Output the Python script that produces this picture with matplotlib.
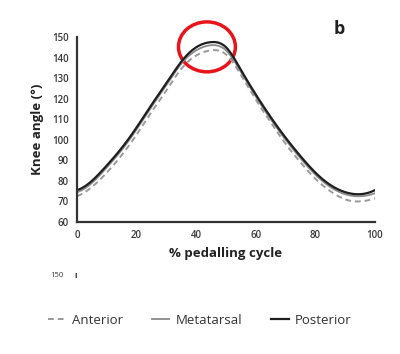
import numpy as np
import matplotlib
matplotlib.use("Agg")
import matplotlib.pyplot as plt
from matplotlib.patches import Ellipse
from scipy.interpolate import CubicSpline

# % pedalling cycle and knee angle (deg) per pedal position
cycle = [0, 5, 10, 15, 20, 25, 30, 35, 40, 45, 50, 55, 60, 65, 70, 75, 80, 85, 90, 95, 100]
posterior = [75.5, 80, 87.5, 96, 106, 117, 127.5, 138, 145, 147.5, 145, 134, 122, 111,
             101, 92, 84, 78, 74.5, 73.5, 75.5]
metatarsal = [74.5, 79, 86.5, 95, 105, 116, 126.5, 137, 143.5, 146, 143.5, 133, 121, 110,
              100, 91, 83, 77, 73.5, 72.5, 74]
anterior = [72.5, 77, 84, 92.5, 102.5, 113.5, 124, 134.5, 141, 143.5, 141.5, 131.5, 119.5,
            108.5, 98, 89, 81, 75, 71, 70, 71.5]
yticks = [60, 70, 80, 90, 100, 110, 120, 130, 140, 150]
xticks = [0, 20, 40, 60, 80, 100]

plt.rcParams['font.family'] = ['Open Sans', 'DejaVu Sans']

fig = plt.figure(figsize=(4.0, 3.54), dpi=100)
ax = fig.add_axes([0.1925, 0.373, 0.745, 0.5225])

# smooth curve through the read-off points
xs = np.linspace(0, 100, 300)
def smooth(vals):
    return CubicSpline(cycle, vals)(xs)

ax.plot(xs, smooth(anterior), color='#9a9a9a', lw=1.4, ls=(0, (3, 2)), label='Anterior')
ax.plot(xs, smooth(metatarsal), color='#8a8a8a', lw=1.3, label='Metatarsal')
ax.plot(xs, smooth(posterior), color='#1e1e1e', lw=1.6, label='Posterior')

ax.set_xlim(0, 100)
ax.set_ylim(60, 150)
ax.set_xticks(xticks)
ax.set_yticks(yticks)
ax.tick_params(length=0, labelsize=7, colors='#3a3a3a', pad=6)
for lbl in ax.get_xticklabels() + ax.get_yticklabels():
    lbl.set_fontweight('semibold')
for s in ['top', 'right']:
    ax.spines[s].set_visible(False)
for s in ['left', 'bottom']:
    ax.spines[s].set_color('#333333')
    ax.spines[s].set_linewidth(1.6)

ax.set_xlabel('% pedalling cycle', fontsize=9.5, fontweight='bold', color='#222222', labelpad=4)
ax.set_ylabel('Knee angle (°)', fontsize=9.5, fontweight='bold', color='#222222', labelpad=6)

# red highlight around the peak
ax.add_patch(Ellipse((43.6, 145.2), 19.1, 24.3, fill=False, edgecolor='#e8141c',
                     lw=2.5, clip_on=False))

fig.text(0.835, 0.905, 'b', fontsize=13, fontweight='bold', color='#222222')
fig.text(0.125, 0.222, '150', fontsize=5.5, color='#333333', va='center')
fig.text(0.187, 0.222, 'ı', fontsize=6, color='#333333', va='center', fontweight='bold')

handles, labels = ax.get_legend_handles_labels()
fig.legend(handles, labels, loc='center', bbox_to_anchor=(0.5, 0.095), ncol=3,
           frameon=False, fontsize=9.5, handlelength=1.3, columnspacing=2.2,
           handletextpad=0.5, labelcolor='#333333')

fig.savefig('out.png', dpi=100)
